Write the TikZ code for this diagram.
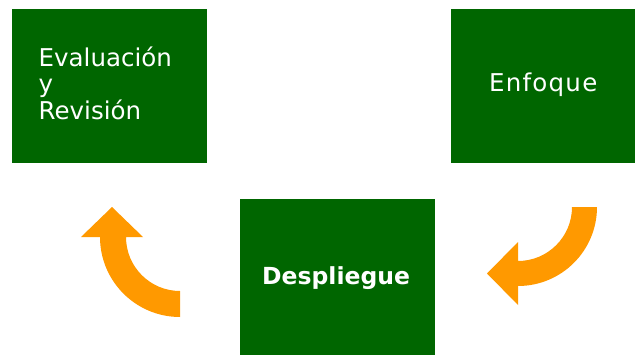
\documentclass[tikz,border=0pt]{standalone}
\usepackage{fontspec}
\setsansfont{DejaVu Sans}
\definecolor{boxgreen}{HTML}{006600}
\definecolor{arroworange}{HTML}{FF9900}
\begin{document}
\begin{tikzpicture}[x=1pt,y=-1pt,
  greenbox/.style={fill=boxgreen,draw=none},
  boxtext/.style={text=white,font=\sffamily\fontsize{24.5}{26.5}\selectfont,inner sep=0pt,anchor=base west},
  curvearrow/.style={fill=arroworange,draw=none}]
\useasboundingbox (0,0) rectangle (635,356);
\fill[white] (0,0) rectangle (635,356);
% boxes
\path[greenbox] (12,9) rectangle (207,163);
\path[greenbox] (451,9) rectangle (635,163);
\path[greenbox] (240,199) rectangle (435,355);
% texts
\node[boxtext] (eval1) at (38.5,66) {Evaluación};
\node[boxtext] (eval2) at (38.5,92.5) {y};
\node[boxtext] (eval3) at (38.5,119) {Revisión};
\node[boxtext,font=\sffamily\fontsize{24.5}{26.5}\selectfont\addfontfeature{LetterSpace=5}] (enf) at (489,91) {Enfoque};
\node[boxtext,font=\sffamily\bfseries\fontsize{23.5}{26.5}\selectfont] (desp) at (262,284) {Despliegue};
% left arrow (from Despliegue up towards Evaluación)
\path[curvearrow] (180,317) arc[start angle=90,end angle=180,radius=80]
  -- (81,237) -- (112,207) -- (143,237) -- (126,237)
  arc[start angle=180,end angle=90,radius=54] -- cycle;
% right arrow (from Enfoque down towards Despliegue)
\path[curvearrow] (572,207) -- (597,207) arc[start angle=0,end angle=90,radius=79]
  -- (518,305) -- (487,273.5) -- (518,242) -- (518,261)
  arc[start angle=90,end angle=0,radius=54] -- cycle;
\end{tikzpicture}
\end{document}
